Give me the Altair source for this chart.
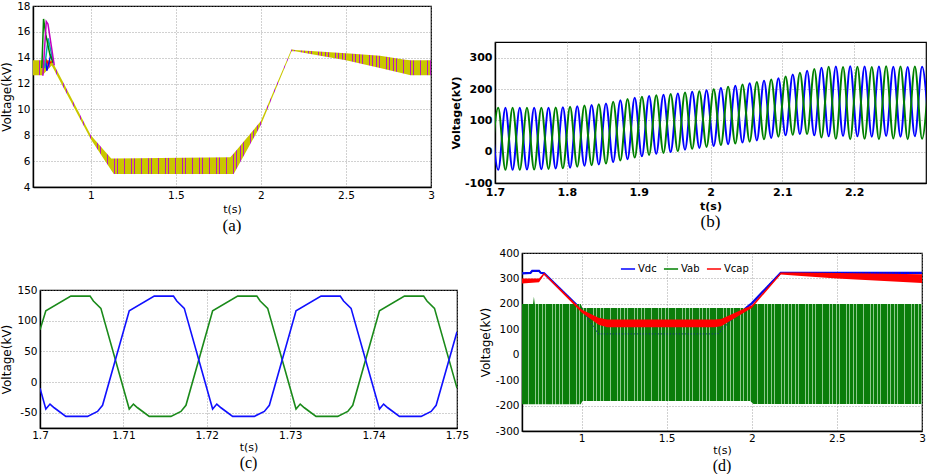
import altair as alt
import pandas as pd

# ---------------- Panel (a): sub-module capacitor voltages (kV) ----------------
a_t  = [0.66, 0.715, 0.77, 1.00, 1.12, 1.135, 1.82, 1.84, 2.00, 2.18, 2.20, 2.50, 2.70, 2.85, 2.88, 3.00]
a_hi = [13.8, 13.8, 13.8, 8.0, 6.2, 6.2, 6.3, 6.6, 9.1, 14.65, 14.6, 14.35, 14.15, 13.85, 13.8, 13.8]
a_lo = [12.65, 12.65, 13.4, 7.7, 5.3, 5.0, 5.0, 5.0, 8.8, 14.5, 14.5, 13.8, 13.2, 12.75, 12.65, 12.65]

sp_green_t = [0.712, 0.722, 0.735, 0.760, 0.780]
sp_green_v = [13.2, 17.0, 15.8, 14.2, 13.6]
sp_mag_t = [0.718, 0.738, 0.748, 0.785]
sp_mag_v = [12.6, 16.8, 16.6, 13.4]
sp_cyan_t = [0.728, 0.749, 0.780]
sp_cyan_v = [13.2, 15.5, 13.6]
sp_blue_t = [0.735, 0.742, 0.766, 0.780]
sp_blue_v = [13.6, 13.0, 14.3, 13.6]
sp_red_t = [0.730, 0.740, 0.750, 0.770]
sp_red_v = [13.4, 13.8, 13.5, 13.7]

# ---------------- Panel (b): two phase voltages, extremes every half cycle ----------------
b_t = [1.6945, 1.7045, 1.7145, 1.7245, 1.7345, 1.7445, 1.7545, 1.7645, 1.7745, 1.7845,
       1.7945, 1.8045, 1.8145, 1.8245, 1.8345, 1.8445, 1.8545, 1.8645, 1.8745, 1.8845,
       1.8945, 1.9045, 1.9145, 1.9245, 1.9345, 1.9445, 1.9545, 1.9645, 1.9745, 1.9845,
       1.9945, 2.0045, 2.0145, 2.0245, 2.0345, 2.0445, 2.0545, 2.0645, 2.0745, 2.0845,
       2.0945, 2.1045, 2.1145, 2.1245, 2.1345, 2.1445, 2.1545, 2.1645, 2.1745, 2.1845,
       2.1945, 2.2045, 2.2145, 2.2245, 2.2345, 2.2445, 2.2545, 2.2645, 2.2745, 2.2845,
       2.2945, 2.3045]
b_upper = [140, 140, 140, 140, 140, 140, 140, 140, 140, 141,
           142, 143, 145, 147, 149, 151, 154, 159, 164, 168,
           172, 175, 178, 180, 182, 184, 186, 189, 191, 193,
           196, 199, 203, 207, 210, 214, 218, 222, 226, 230,
           234, 240, 246, 252, 258, 264, 268, 271, 272, 270,
           273, 271, 272, 270, 272, 273, 271, 272, 270, 272,
           271, 272]
b_lower_green = [-58, -58, -58, -58, -58, -57, -57, -56, -55, -54,
                 -53, -51, -48, -45, -43, -41, -38, -33, -28, -24,
                 -19, -15, -11, -7, -4, -1, 2, 6, 9, 12,
                 15, 18, 21, 24, 26, 29, 32, 36, 40, 44,
                 48, 52, 54, 56, 56, 50, 45, 42, 41, 42,
                 40, 42, 41, 42, 40, 41, 42, 41, 40, 42,
                 41, 42]
b_lower_blue = [-58, -58, -58, -58, -58, -57, -57, -56, -55, -54,
                -53, -51, -48, -45, -43, -41, -38, -33, -28, -24,
                -19, -15, -11, -7, -4, -1, 2, 6, 9, 12,
                15, 18, 21, 24, 26, 29, 32, 36, 40, 44,
                48, 52, 54, 56, 56, 52, 50, 49, 49, 50,
                48, 49, 50, 48, 49, 50, 49, 48, 50, 49,
                48, 50]

# ---------------- Panel (c): zoom of the two phase voltages ----------------
c_green_t = [1.7000, 1.7007, 1.7037, 1.7060, 1.7064, 1.7073, 1.7107, 1.7112, 1.7117, 1.7131,
             1.7157, 1.7169, 1.7175, 1.7207, 1.7237, 1.7260, 1.7264, 1.7273, 1.7307, 1.7312,
             1.7317, 1.7331, 1.7357, 1.7369, 1.7375, 1.7407, 1.7437, 1.7460, 1.7464, 1.7473,
             1.7500]
c_green_v = [85, 116, 140, 140, 132, 120, -44, -36, -42, -56,
             -56, -48, -38, 116, 140, 140, 132, 120, -44, -36,
             -42, -56, -56, -48, -38, 116, 140, 140, 132, 120,
             -10]
c_blue_t = [1.7000, 1.7007, 1.7012, 1.7017, 1.7031, 1.7057, 1.7069, 1.7075, 1.7107, 1.7137,
            1.7160, 1.7164, 1.7173, 1.7207, 1.7212, 1.7217, 1.7231, 1.7257, 1.7269, 1.7275,
            1.7307, 1.7337, 1.7360, 1.7364, 1.7373, 1.7407, 1.7412, 1.7417, 1.7431, 1.7457,
            1.7469, 1.7475, 1.7500]
c_blue_v = [-10, -44, -36, -42, -56, -56, -48, -38, 116, 140,
            140, 132, 120, -44, -36, -42, -56, -56, -48, -38,
            116, 140, 140, 132, 120, -44, -36, -42, -56, -56,
            -48, -38, 82]

# ---------------- Panel (d): Vdc, Vab, Vcap ----------------
d_g_t  = [0.65, 0.715, 0.72, 0.725, 0.995, 1.005, 1.99, 2.01, 3.00]
d_g_hi = [199, 199, 228, 199, 199, 184, 184, 199, 199]
d_g_lo = [-195, -195, -195, -195, -195, -182, -182, -194, -194]

d_r_t  = [0.65, 0.75, 0.78, 1.00, 1.10, 1.15, 1.78, 1.82, 2.00, 2.17, 2.25, 2.50, 3.00]
d_r_hi = [300, 300, 322, 178, 145, 138, 138, 140, 195, 323, 323, 321, 316]
d_r_lo = [280, 285, 314, 166, 118, 108, 108, 112, 184, 315, 312, 300, 282]

d_b_t = [0.65, 0.70, 0.71, 0.75, 0.76, 0.78, 1.00, 1.05, 1.10, 1.80, 1.88, 2.00, 2.17, 3.00]
d_b_v = [320, 322, 330, 330, 322, 320, 177, 130, 82, 82, 137, 202, 322, 322]

# ---------------- styling helpers ----------------
FONT = 'DejaVu Sans'
SERIF = 'Liberation Serif'


def stripes(c1, c2, n, frac):
    """Vertical pin-stripe fill (style only) imitating the dense switching ripple."""
    stops = []
    for k in range(n):
        a, m, b = k / n, (k + 1 - frac) / n, (k + 1) / n
        stops += [alt.GradientStop(color=c1, offset=a), alt.GradientStop(color=c1, offset=m),
                  alt.GradientStop(color=c2, offset=m), alt.GradientStop(color=c2, offset=b)]
    return alt.Gradient(gradient='linear', stops=stops, x1=0, x2=1, y1=0, y2=0)


def axis(vals, title, lsize=10.5, tsize=11, weight='normal', lpad=3, tpad=3):
    return alt.Axis(values=vals, title=title, grid=True, gridDash=[1, 2], gridColor='#8a8a8a',
                    gridWidth=0.8, ticks=False, domainColor='black', domainWidth=1.4,
                    labelExpr="'' + datum.value", labelFont=FONT, labelFontSize=lsize,
                    labelFontWeight=weight, labelColor='black', labelPadding=lpad,
                    labelFlush=False, labelOverlap=False, titleFont=FONT, titleFontSize=tsize,
                    titleFontWeight=weight, titleColor='black', titlePadding=tpad)


def X(field, dom, vals, **kw):
    return alt.X(field, type='quantitative', scale=alt.Scale(domain=dom, nice=False, zero=False),
                 axis=axis(vals, 't(s)', **kw))


def Y(field, dom, vals, **kw):
    return alt.Y(field, type='quantitative', scale=alt.Scale(domain=dom, nice=False, zero=False),
                 axis=axis(vals, 'Voltage(kV)', **kw))


def caption(txt, offset=3, size=17):
    return alt.TitleParams(txt, orient='bottom', font=SERIF, fontSize=size, fontWeight='normal',
                           color='black', offset=offset)


def spacer(w, h):
    return alt.Chart(pd.DataFrame({'z': [0]})).mark_point(size=0, opacity=0).encode(
        x=alt.X('z:Q', axis=None, scale=alt.Scale(domain=[0, 1])),
        y=alt.Y('z:Q', axis=None, scale=alt.Scale(domain=[0, 1]))
    ).properties(width=w, height=h, view=alt.ViewBackground(stroke='transparent'))


def line(ts, vs, colour, width, xs, ys, **kw):
    return alt.Chart(pd.DataFrame({'t': ts, 'v': vs})).mark_line(
        color=colour, strokeWidth=width, clip=True, **kw).encode(x=xs, y=ys)


# ---------------- Panel (a) ----------------
ax_dom, ax_vals = [0.66, 3], [1, 1.5, 2, 2.5, 3]
ay_dom, ay_vals = [4, 18], [4, 6, 8, 10, 12, 14, 16, 18]
df_a = pd.DataFrame({'t': a_t, 'hi': a_hi, 'lo': a_lo})
aX, aYkw = X('t', ax_dom, ax_vals), dict(tsize=12)
a_band = alt.Chart(df_a).mark_area(color=stripes('#c9c600', '#b81cb8', 117, 0.2), clip=True).encode(
    x=aX, y=Y('hi', ay_dom, ay_vals, **aYkw), y2='lo')
a_layers = [a_band]
for ts, vs, col in [(sp_red_t, sp_red_v, '#ff0000'), (sp_blue_t, sp_blue_v, '#0000ff'),
                    (sp_cyan_t, sp_cyan_v, '#00b0b0'), (sp_green_t, sp_green_v, '#008000'),
                    (sp_mag_t, sp_mag_v, '#c000c0')]:
    a_layers.append(line(ts, vs, col, 1.5, aX, Y('v', ay_dom, ay_vals, **aYkw)))
pa = alt.layer(*a_layers).properties(width=398, height=181, title=caption('(a)'))

# ---------------- Panel (b) ----------------
bx_dom, bx_vals = [1.7, 2.3], [1.7, 1.8, 1.9, 2.0, 2.1, 2.2]
by_dom, by_vals = [-100, 350], [-100, 0, 100, 200, 300]
g_v = [b_upper[j] if j % 2 == 1 else b_lower_green[j] for j in range(len(b_t))]
bl_v = [b_upper[j] if j % 2 == 0 else b_lower_blue[j] for j in range(len(b_t))]
bkw = dict(lsize=11, tsize=11, weight='bold')
bX, bY = X('t', bx_dom, bx_vals, **bkw), Y('v', by_dom, by_vals, **bkw)
pb = alt.layer(line(b_t, bl_v, '#0000ff', 2.0, bX, bY, interpolate='monotone'),
               line(b_t, g_v, '#008000', 2.0, bX, bY, interpolate='monotone')).properties(
    width=431, height=141, title=caption('(b)'))

# ---------------- Panel (c) ----------------
cx_dom, cx_vals = [1.7, 1.75], [1.7, 1.71, 1.72, 1.73, 1.74, 1.75]
cy_dom, cy_vals = [-75, 150], [-50, 0, 50, 100, 150]
cX, cY = X('t', cx_dom, cx_vals, lpad=2, tpad=1), Y('v', cy_dom, cy_vals, tsize=12)
pc = alt.layer(line(c_green_t, c_green_v, '#1a8a1a', 1.6, cX, cY),
               line(c_blue_t, c_blue_v, '#1010ff', 1.6, cX, cY)).properties(
    width=417, height=138, title=caption('(c)', offset=2, size=16))

# ---------------- Panel (d) ----------------
dx_dom, dx_vals = [0.65, 3], [1, 1.5, 2, 2.5, 3]
dy_dom, dy_vals = [-300, 400], [-300, -200, -100, 0, 100, 200, 300, 400]
dX, dY = X('t', dx_dom, dx_vals, lpad=2, tpad=1), Y('v', dy_dom, dy_vals, tsize=12)
df_db = pd.DataFrame({'t': d_b_t, 'v': d_b_v, 's': ['Vdc'] * len(d_b_t)})
d_blue = alt.Chart(df_db).mark_line(strokeWidth=2.2, clip=True).encode(
    x=dX, y=dY,
    color=alt.Color('s:N', scale=alt.Scale(domain=['Vdc', 'Vab', 'Vcap'],
                                           range=['#0000ff', '#008000', '#ff0000']),
                    legend=alt.Legend(orient='none', legendX=98, legendY=8, direction='horizontal',
                                      title=None, symbolType='stroke', symbolStrokeWidth=1.5,
                                      symbolSize=200, labelFont=FONT, labelFontSize=10,
                                      labelColor='black', columnPadding=3, labelOffset=2,
                                      padding=0)))
d_green = alt.Chart(pd.DataFrame({'t': d_g_t, 'hi': d_g_hi, 'lo': d_g_lo})).mark_area(
    color=stripes('#0b7d0b', '#8cc88c', 117, 0.22), clip=True).encode(
    x=dX, y=Y('hi', dy_dom, dy_vals, tsize=12), y2='lo')
d_blue_hidden = line(d_b_t, d_b_v, '#1a2a90', 1.4, dX, dY, strokeDash=[1, 2], opacity=0.9)
d_red = alt.Chart(pd.DataFrame({'t': d_r_t, 'hi': d_r_hi, 'lo': d_r_lo})).mark_area(
    color='#ff0000', clip=True).encode(
    x=dX, y=Y('hi', dy_dom, dy_vals, tsize=12), y2='lo')
pd_ = alt.layer(d_blue, d_green, d_blue_hidden, d_red).properties(
    width=400, height=178, title=caption('(d)', offset=2, size=16))

# ---------------- layout ----------------
ind = dict(color='independent')
c_wrap = alt.hconcat(spacer(7, 1), pc, spacing=0, bounds='flush').resolve_scale(**ind)
left = alt.vconcat(pa, c_wrap, spacing=49).resolve_scale(**ind)
b_wrap = alt.vconcat(spacer(1, 36), pb, spacing=0, bounds='flush').resolve_scale(**ind)
d_wrap = alt.hconcat(spacer(27, 1), pd_, spacing=0, bounds='flush').resolve_scale(**ind)
right = alt.vconcat(b_wrap, d_wrap, spacing=16).resolve_scale(**ind)
chart = alt.hconcat(left, right, spacing=-21).resolve_scale(**ind).configure_view(
    stroke='black', strokeWidth=1.2).properties(
    padding={'left': 0, 'top': 0, 'right': 0, 'bottom': 0})

chart.save('out.html', embed_options={'renderer': 'svg', 'actions': False})
